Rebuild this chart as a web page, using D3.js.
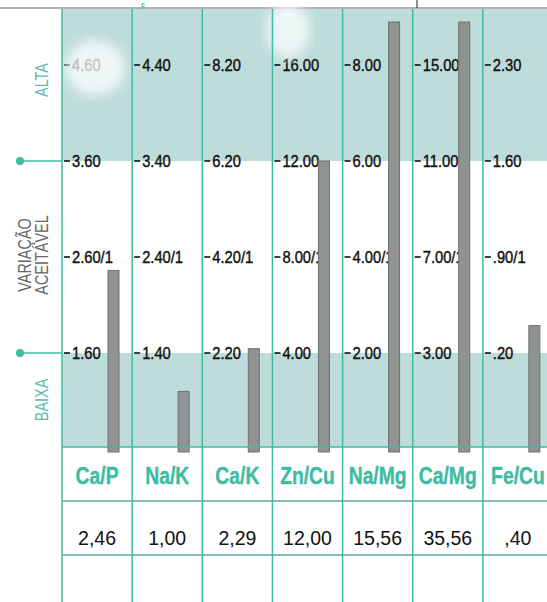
<!DOCTYPE html>
<html><head><meta charset="utf-8">
<script src="https://cdn.jsdelivr.net/npm/d3@7"></script>
<style>html,body{margin:0;padding:0;background:#fff;overflow:hidden}</style>
</head><body><div id="chart"></div>
<script>
const categories = ["Ca/P","Na/K","Ca/K","Zn/Cu","Na/Mg","Ca/Mg","Fe/Cu"];
const values = [2.46, 1.00, 2.29, 12.00, 15.56, 35.56, 0.40];
const valueLabels = ["2,46","1,00","2,29","12,00","15,56","35,56",",40"];
const lowTicks   = [1.60, 1.40, 2.20, 4.00, 2.00, 3.00, 0.20];
const topTicks   = [4.60, 4.40, 8.20, 16.00, 8.00, 15.00, 2.30];
const tickLabels = [
  ["1.60","2.60/1","3.60","4.60"],
  ["1.40","2.40/1","3.40","4.40"],
  ["2.20","4.20/1","6.20","8.20"],
  ["4.00","8.00/1","12.00","16.00"],
  ["2.00","4.00/1","6.00","8.00"],
  ["3.00","7.00/1","11.00","15.00"],
  [".20",".90/1","1.60","2.30"]
];
const sideLabels = ["ALTA","BAIXA"];
const rangeLabel = ["VARIAÇÃO","ACEITÁVEL"];

const W = 547, H = 602;
const svg = d3.select("#chart").append("svg").attr("width", W).attr("height", H)
  .style("font-family","'Liberation Sans', Arial, sans-serif");

const defs = svg.append("defs");
defs.append("filter").attr("id","blur").append("feGaussianBlur").attr("stdDeviation", 6);

const x = d3.scaleBand().domain(categories).range([62, 553]).padding(0);
const plotTop = 9, plotBottom = 447;
const yLow = 353, yTop = 65;
const teal = "#3dbca2";
const band = "#bddcda";

// bands
svg.append("rect").attr("x",62).attr("y",plotTop).attr("width",W-62).attr("height",161-plotTop).attr("fill",band);
svg.append("rect").attr("x",62).attr("y",yLow).attr("width",W-62).attr("height",plotBottom-yLow).attr("fill",band);

// top line and fragments
svg.append("line").attr("x1",0).attr("x2",W).attr("y1",8).attr("y2",8).attr("stroke","#666").attr("stroke-width",1.2);
svg.append("line").attr("x1",417).attr("x2",417).attr("y1",0).attr("y2",8).attr("stroke","#444").attr("stroke-width",1.2);
svg.append("text").attr("x",143).attr("y",7).attr("fill",teal).attr("font-size",7).attr("font-weight","bold").attr("text-anchor","middle").text("ç");

// per-column scales, ticks and bars
categories.forEach((c, i) => {
  const y = d3.scaleLinear().domain([lowTicks[i], topTicks[i]]).range([yLow, yTop]);
  const step = (topTicks[i] - lowTicks[i]) / 3;
  const ticks = d3.range(4).map(k => lowTicks[i] + k * step);
  const x0 = x(c);
  const g = svg.append("g");
  ticks.forEach((t, k) => {
    const ty = y(t);
    g.append("line").attr("x1",x0+2).attr("x2",x0+8).attr("y1",ty).attr("y2",ty).attr("stroke","#111").attr("stroke-width",1.6);
    g.append("text").attr("dy","0.36em")
      .attr("font-size",16).attr("fill","#111").attr("stroke","#111").attr("stroke-width",0.4)
      .attr("transform",`translate(${x0+10},${ty}) scale(0.92,1)`)
      .text(tickLabels[i][k]);
  });
  const top = Math.max(y(values[i]), 22);
  g.append("rect").attr("x",x0+46).attr("width",11).attr("y",top).attr("height",452-top)
    .attr("fill","#8f9392").attr("stroke","#6e7271").attr("stroke-width",1);
});

// blobs (scan artifacts)
svg.append("ellipse").attr("cx",95).attr("cy",68).attr("rx",30).attr("ry",28).attr("fill","#fff").attr("opacity",0.75).attr("filter","url(#blur)");
svg.append("ellipse").attr("cx",288).attr("cy",30).attr("rx",22).attr("ry",28).attr("fill","#fff").attr("opacity",0.75).attr("filter","url(#blur)");

// column lines
categories.forEach(c => {
  svg.append("line").attr("x1",x(c)).attr("x2",x(c)).attr("y1",plotTop).attr("y2",H).attr("stroke",teal).attr("stroke-width",1.5);
});

// table rows
[447, 501, 555].forEach((ry, k) => {
  svg.append("line").attr("x1",62).attr("x2",W).attr("y1",ry).attr("y2",ry)
    .attr("stroke", k === 0 ? teal : "#5fa59a").attr("stroke-width",1.5);
});
categories.forEach((c, i) => {
  const cx = x(c) + x.bandwidth()/2;
  svg.append("text").attr("transform",`translate(${cx},476) scale(0.84,1)`).attr("dy","0.36em").attr("text-anchor","middle")
    .attr("font-weight","bold").attr("stroke",teal).attr("stroke-width",0.4)
    .attr("font-size",23).attr("fill",teal).text(c);
  svg.append("text").attr("x",cx).attr("y",538).attr("dy","0.36em").attr("text-anchor","middle")
    .attr("font-size",19.5).attr("fill","#111").text(valueLabels[i]);
});

// left labels
const sidePos = [[41, 80], [41, 400]];
sideLabels.forEach((s, k) => {
  svg.append("text").attr("transform",`translate(${sidePos[k][0]},${sidePos[k][1]}) rotate(-90) scale(0.76,1)`)
    .attr("text-anchor","middle").attr("dy","0.36em")
    .attr("font-size",19).attr("fill","#5fbcab").text(s);
});
rangeLabel.forEach((s, k) => {
  svg.append("text").attr("transform",`translate(${24 + k*17},255) rotate(-90) scale(0.76,1)`)
    .attr("text-anchor","middle").attr("dy","0.36em")
    .attr("font-size",19).attr("fill","#666").text(s);
});

// markers
[161, 353].forEach(my => {
  svg.append("line").attr("x1",20).attr("x2",62).attr("y1",my).attr("y2",my).attr("stroke",teal).attr("stroke-width",1.3);
  svg.append("circle").attr("cx",20).attr("cy",my).attr("r",4).attr("fill",teal);
});
</script></body></html>
